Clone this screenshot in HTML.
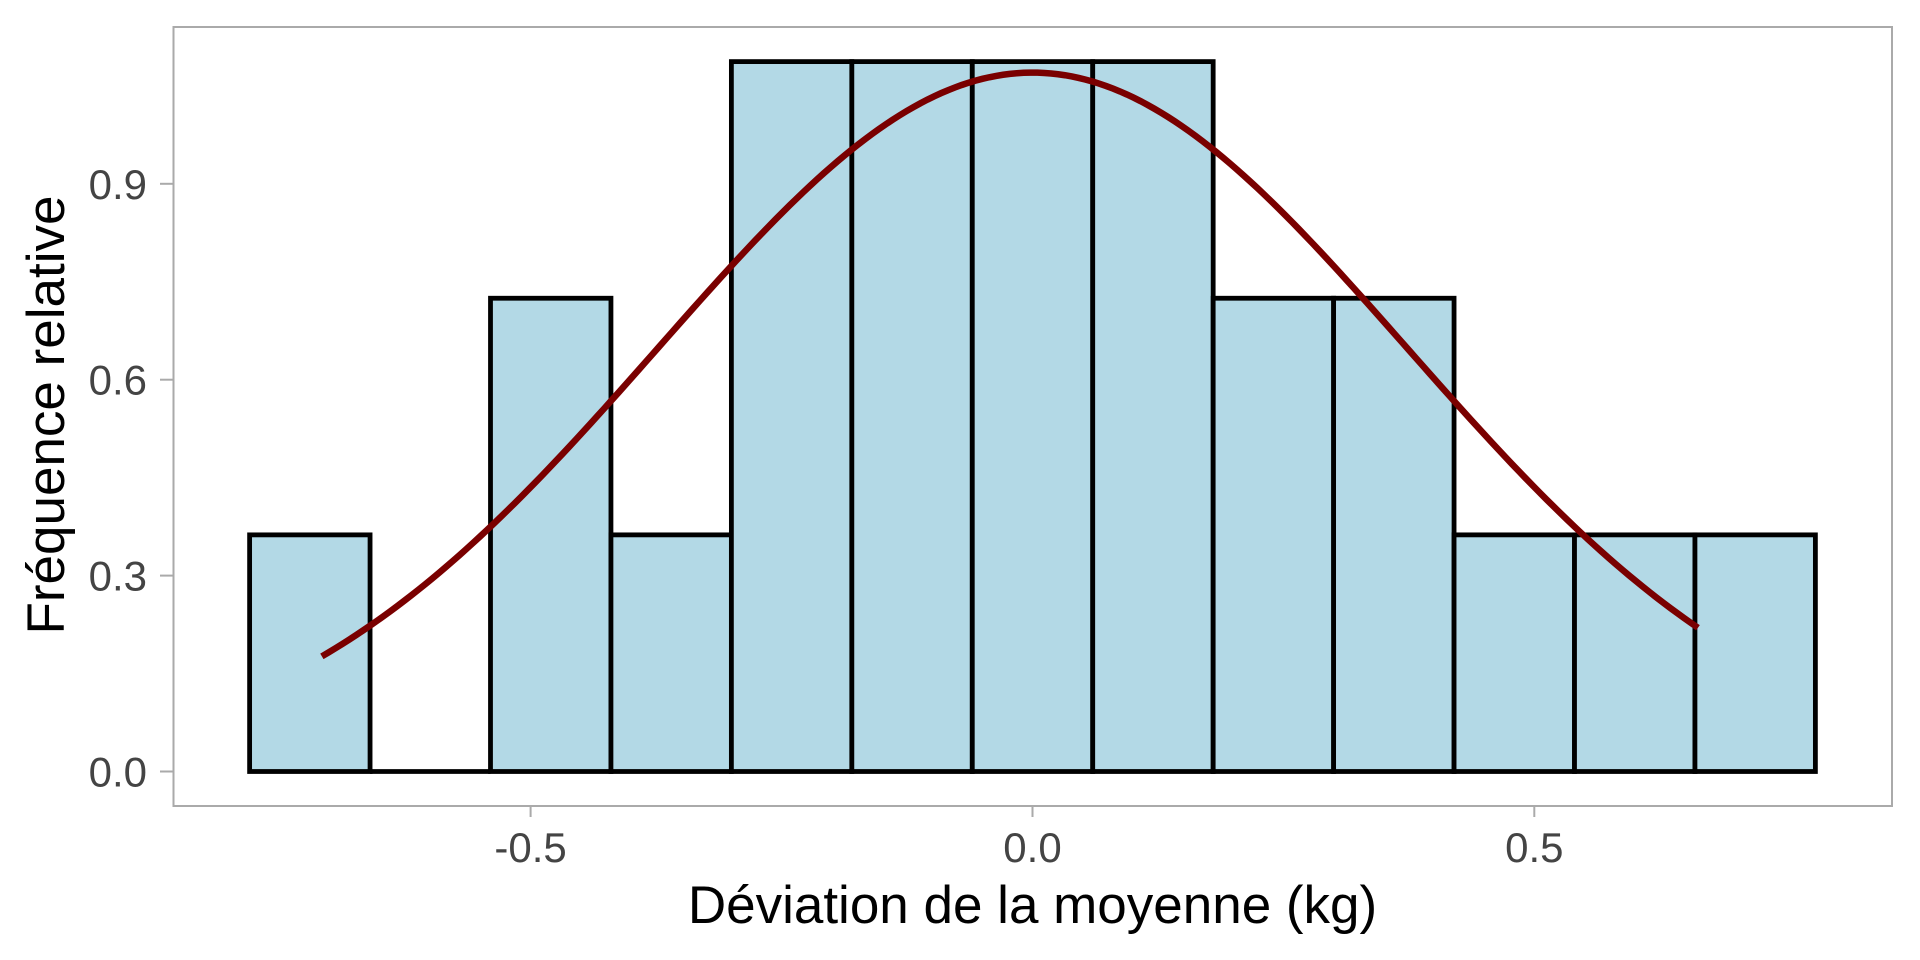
<!DOCTYPE html>
<html><head><meta charset="utf-8"><style>html,body{margin:0;padding:0;background:#fff}svg{display:block}</style></head>
<body>
<svg id="s" width="1920" height="960" viewBox="0 0 1920 960" xmlns="http://www.w3.org/2000/svg" font-family="Liberation Sans, sans-serif">
<rect x="0" y="0" width="1920" height="960" fill="#fff"/>
<rect x="173.5" y="27" width="1718.5" height="779" fill="none" stroke="#aaa" stroke-width="2"/>
<g id="bars" fill="#b3d9e6" stroke="#000" stroke-width="4.8"></g>
<path id="curve" fill="none" stroke="#7a0000" stroke-width="6.5"/>
<g stroke="#aaa" stroke-width="2">
<line x1="160" x2="173.5" y1="771.5" y2="771.5"/><line x1="160" x2="173.5" y1="575.6" y2="575.6"/>
<line x1="160" x2="173.5" y1="379.7" y2="379.7"/><line x1="160" x2="173.5" y1="183.8" y2="183.8"/>
<line x1="530.6" x2="530.6" y1="806" y2="817"/><line x1="1032.5" x2="1032.5" y1="806" y2="817"/><line x1="1534.3" x2="1534.3" y1="806" y2="817"/>
</g>
<g fill="#444" font-size="42" text-anchor="end">
<text x="147" y="786.5">0.0</text><text x="147" y="590.6">0.3</text><text x="147" y="394.7">0.6</text><text x="147" y="198.8">0.9</text>
</g>
<g fill="#444" font-size="42" text-anchor="middle">
<text x="530.6" y="862">-0.5</text><text x="1032.5" y="862">0.0</text><text x="1534.3" y="862">0.5</text>
</g>
<text x="1032.5" y="923" font-size="53" text-anchor="middle" fill="#000">Déviation de la moyenne (kg)</text>
<text transform="translate(64,415) rotate(-90)" font-size="53" text-anchor="middle" fill="#000">Fréquence relative</text>
</svg>
<script>
var X=function(v){return 1032.5+v*1003.7},Y=function(v){return 771.5-v*653.1};
var c=[1,0,2,1,3,3,3,3,2,2,1,1,1],g=document.getElementById('bars'),h='';
for(var i=0;i<13;i++){var x0=X(-0.78+i*0.12),x1=X(-0.78+(i+1)*0.12),hh=c[i]/(23*0.12);
 if(c[i]==0){h+='<line x1="'+x0+'" x2="'+x1+'" y1="'+Y(0)+'" y2="'+Y(0)+'"/>';}
 else h+='<rect x="'+x0+'" y="'+Y(hh)+'" width="'+(x1-x0)+'" height="'+(Y(0)-Y(hh))+'"/>';}
g.innerHTML=h;
var sd=0.3728,d='';for(var k=0;k<=200;k++){var v=-0.708+k*(0.663+0.708)/200,f=Math.exp(-v*v/(2*sd*sd))/(sd*Math.sqrt(2*Math.PI));d+=(k?'L':'M')+X(v).toFixed(2)+','+Y(f).toFixed(2);}
document.getElementById('curve').setAttribute('d',d);
</script>
</body></html>
